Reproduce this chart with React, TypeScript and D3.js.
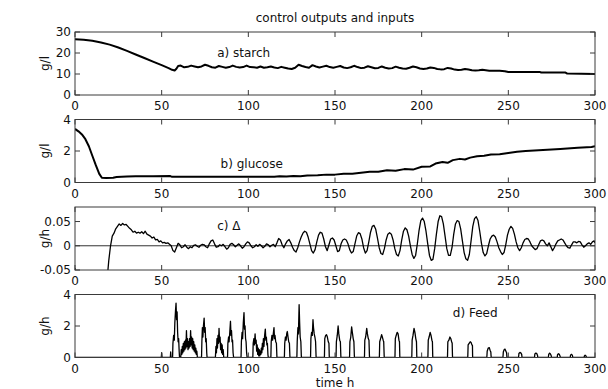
import React from 'react';
import * as d3 from 'd3';

// ---------- data ----------
const timeTicks = [0, 50, 100, 150, 200, 250, 300];
const starchTicks = [0, 10, 20, 30];
const glucoseTicks = [0, 2, 4];
const deltaTicks = [-0.05, 0, 0.05];
const feedTicks = [0, 2, 4];

const starch: [number, number][] = [
  [0, 26.5], [5, 26.3], [10, 25.8], [15, 25.0], [20, 24.0], [25, 22.6], [30, 21.0], [35, 19.3],
  [40, 17.6], [45, 15.9], [50, 14.2], [54, 12.8], [56, 12.0], [57.5, 11.7], [58.5, 12.5], [59.5, 13.8],
  [61, 14.0], [63, 13.2], [65, 13.4], [67, 14.0], [69, 13.6], [71, 13.2], [73, 13.6], [75, 14.4],
  [77, 13.9], [79, 13.2], [81, 13.0], [83, 13.8], [85, 13.4], [87, 13.0], [89, 13.3], [91, 14.0],
  [93, 13.4], [95, 13.1], [97, 13.3], [99, 14.0], [101, 13.3], [103, 13.2], [105, 13.0], [107, 13.6],
  [109, 13.0], [111, 13.2], [113, 13.6], [115, 13.1], [117, 12.8], [119, 13.4], [121, 13.0], [123, 12.6],
  [125, 12.4], [127, 13.0], [129, 14.4], [131, 13.8], [133, 13.3], [135, 13.0], [137, 14.2], [139, 13.6],
  [141, 13.1], [143, 13.5], [145, 13.9], [147, 13.3], [149, 13.0], [151, 13.4], [153, 13.8], [155, 13.1],
  [157, 12.8], [159, 13.2], [161, 13.9], [163, 13.3], [165, 12.8], [167, 13.0], [169, 13.7], [171, 13.2],
  [173, 12.7], [175, 12.9], [177, 13.6], [179, 13.0], [181, 12.6], [183, 12.8], [185, 13.5], [187, 13.0],
  [189, 12.6], [191, 12.5], [193, 13.0], [195, 13.6], [197, 13.2], [199, 12.6], [201, 12.4], [203, 12.6],
  [205, 13.1], [207, 12.9], [209, 12.4], [211, 12.2], [213, 12.3], [215, 12.9], [217, 12.6], [219, 12.1],
  [221, 11.9], [223, 12.0], [225, 12.4], [227, 12.1], [229, 11.8], [231, 11.7], [233, 11.8], [235, 12.0],
  [237, 11.8], [239, 11.6], [241, 11.5], [245, 11.5], [248, 11.3], [250, 11.0], [260, 11.0], [268, 11.0],
  [269, 10.7], [283, 10.7], [284, 10.2], [300, 10.0],
];

const glucose: [number, number][] = [
  [0, 3.4], [2, 3.25], [4, 3.05], [6, 2.75], [8, 2.3], [10, 1.7], [12, 1.1], [14, 0.55], [15.5, 0.3],
  [18, 0.28], [22, 0.3], [24, 0.35], [30, 0.38], [35, 0.4], [45, 0.4], [55, 0.41], [56, 0.36], [80, 0.36],
  [100, 0.36], [115, 0.37], [118, 0.4], [122, 0.38], [126, 0.42], [130, 0.4], [134, 0.44], [140, 0.46],
  [145, 0.5], [150, 0.5], [155, 0.55], [160, 0.56], [165, 0.62], [170, 0.68], [175, 0.68], [180, 0.78],
  [185, 0.75], [190, 0.85], [195, 0.82], [200, 1.0], [205, 1.02], [208, 1.2], [212, 1.3], [215, 1.25],
  [218, 1.42], [222, 1.5], [225, 1.46], [228, 1.58], [232, 1.66], [236, 1.7], [240, 1.78], [245, 1.8],
  [250, 1.88], [255, 1.95], [260, 2.0], [270, 2.06], [280, 2.13], [290, 2.2], [298, 2.25], [300, 2.3],
];

const delta: [number, number][] = [
  [0, -0.046], [0.6, -0.07], [18.5, -0.07], [19.5, -0.03], [20.5, 0.0], [21.5, 0.02], [22.5, 0.026],
  [23.5, 0.035], [24.5, 0.04], [25.5, 0.045], [26.5, 0.042], [27.5, 0.046], [28.5, 0.043], [29.5, 0.044],
  [30.5, 0.04], [31.5, 0.036], [32.5, 0.033], [33.5, 0.028], [34.5, 0.03], [35.5, 0.026], [36.5, 0.028],
  [37.5, 0.026], [38.5, 0.029], [39.5, 0.025], [40.5, 0.03], [41.5, 0.024], [42.5, 0.022], [43.5, 0.02],
  [44.5, 0.016], [45.5, 0.018], [46.5, 0.012], [47.5, 0.013], [48.5, 0.008], [49.5, 0.01], [50.5, 0.006],
  [51.5, 0.007], [52.5, 0.005], [53.5, 0.006], [54.5, 0.003], [55.5, 0.0], [56.5, -0.01], [57.5, -0.013],
  [58.5, -0.004], [59.5, 0.005], [60.5, 0.002], [61.5, -0.004], [62.5, -0.002], [63.5, 0.002],
  [64.5, -0.003], [65.5, -0.006], [66.5, -0.002], [67.5, -0.004], [68.5, 0.001], [69.5, 0.002],
  [70.5, -0.001], [71.5, -0.003], [72.5, 0.001], [73.5, 0.003], [74.5, 0.002], [75.5, -0.002],
  [76.5, -0.004], [77.5, 0.004], [78.5, 0.01], [79.5, 0.012], [80.5, 0.004], [81.5, -0.003],
  [82.5, -0.002], [83.5, 0.002], [84.5, 0.0], [85.5, 0.003], [86.5, -0.002], [87.5, -0.007],
  [88.5, -0.004], [89.5, 0.003], [90.5, 0.005], [91.5, 0.002], [92.5, -0.002], [93.5, 0.001],
  [94.5, 0.004], [95.5, 0.0], [96.5, -0.005], [97.5, -0.002], [98.5, 0.004], [99.5, 0.008],
  [100.5, 0.006], [101.5, 0.0], [102.5, -0.004], [103.5, -0.002], [104.5, 0.002], [105.5, -0.001],
  [106.5, 0.003], [107.5, 0.0], [108.5, -0.004], [109.5, -0.001], [110.5, 0.004], [111.5, 0.002],
  [112.5, -0.002], [113.5, 0.001], [114.5, 0.003], [115.5, -0.002], [116.5, 0.006], [117.5, 0.015],
  [118.5, 0.012], [119.5, 0.002], [120.5, -0.004], [121.5, 0.004], [122.5, 0.01], [123.5, 0.013],
  [124.5, 0.006], [125.5, -0.003], [126.5, -0.01], [127.5, -0.013], [128.5, -0.004], [129.5, 0.008],
  [130.5, 0.018], [131.5, 0.026], [132.5, 0.03], [133.5, 0.028], [134.5, 0.018], [135.5, 0.004],
  [136.5, -0.01], [137.5, -0.015], [138.5, -0.008], [139.5, 0.008], [140.5, 0.022], [141.5, 0.028],
  [142.5, 0.026], [143.5, 0.014], [144.5, -0.002], [145.5, -0.01], [146.5, 0.002], [147.5, 0.014],
  [148.5, 0.016], [149.5, 0.012], [150.5, 0.0], [151.5, -0.012], [152.5, -0.01], [153.5, 0.004],
  [154.5, 0.012], [155.5, 0.014], [156.5, 0.012], [157.5, 0.004], [158.5, -0.008], [159.5, -0.015],
  [160.5, -0.012], [161.5, 0.004], [162.5, 0.02], [163.5, 0.027], [164.5, 0.025], [165.5, 0.014],
  [166.5, -0.004], [167.5, -0.015], [168.5, -0.01], [169.5, 0.008], [170.5, 0.028], [171.5, 0.04],
  [172.5, 0.042], [173.5, 0.034], [174.5, 0.016], [175.5, -0.004], [176.5, -0.016], [177.5, -0.018],
  [178.5, -0.006], [179.5, 0.012], [180.5, 0.024], [181.5, 0.027], [182.5, 0.024], [183.5, 0.012],
  [184.5, -0.006], [185.5, -0.018], [186.5, -0.021], [187.5, -0.01], [188.5, 0.012], [189.5, 0.03],
  [190.5, 0.037], [191.5, 0.033], [192.5, 0.02], [193.5, 0.0], [194.5, -0.018], [195.5, -0.026],
  [196.5, -0.02], [197.5, 0.004], [198.5, 0.032], [199.5, 0.052], [200.5, 0.057], [201.5, 0.05],
  [202.5, 0.03], [203.5, 0.004], [204.5, -0.02], [205.5, -0.03], [206.5, -0.028], [207.5, -0.006],
  [208.5, 0.024], [209.5, 0.05], [210.5, 0.062], [211.5, 0.06], [212.5, 0.045], [213.5, 0.02],
  [214.5, -0.006], [215.5, -0.02], [216.5, -0.02], [217.5, -0.004], [218.5, 0.024], [219.5, 0.045],
  [220.5, 0.052], [221.5, 0.05], [222.5, 0.035], [223.5, 0.01], [224.5, -0.014], [225.5, -0.027],
  [226.5, -0.03], [227.5, -0.018], [228.5, 0.01], [229.5, 0.04], [230.5, 0.056], [231.5, 0.06],
  [232.5, 0.052], [233.5, 0.03], [234.5, 0.005], [235.5, -0.014], [236.5, -0.021], [237.5, -0.016],
  [238.5, 0.0], [239.5, 0.014], [240.5, 0.02], [241.5, 0.022], [242.5, 0.018], [243.5, 0.008],
  [244.5, -0.004], [245.5, -0.012], [246.5, -0.018], [247.5, -0.014], [248.5, 0.002], [249.5, 0.022],
  [250.5, 0.034], [251.5, 0.04], [252.5, 0.036], [253.5, 0.024], [254.5, 0.008], [255.5, -0.004],
  [256.5, -0.01], [257.5, -0.004], [258.5, 0.006], [259.5, 0.013], [260.5, 0.015], [261.5, 0.014],
  [262.5, 0.008], [263.5, 0.0], [264.5, -0.004], [265.5, -0.008], [266.5, -0.006], [267.5, 0.002],
  [268.5, 0.01], [269.5, 0.012], [270.5, 0.01], [271.5, 0.004], [272.5, 0.0], [273.5, 0.006],
  [274.5, -0.002], [275.5, -0.01], [276.5, -0.004], [277.5, 0.004], [278.5, 0.01], [279.5, 0.012],
  [280.5, 0.014], [281.5, 0.012], [282.5, 0.006], [283.5, 0.0], [284.5, -0.004], [285.5, -0.005],
  [286.5, 0.002], [287.5, 0.008], [288.5, 0.008], [289.5, 0.006], [290.5, 0.009], [291.5, 0.008],
  [292.5, 0.002], [293.5, -0.003], [294.5, 0.0], [295.5, 0.004], [296.5, 0.006], [297.5, 0.003],
  [298.5, 0.008], [299.5, 0.01], [300, 0.006],
];

const feed: [number, number][] = [
  [0, 0], [49.8, 0], [50, 0.3], [50.2, 0],
  [55, 0], [55.2, 0.35], [55.4, 0],
  [56.3, 0], [56.5, 0.9], [56.9, 1.4], [57.3, 1.1], [57.6, 2.2], [58, 3.0], [58.3, 3.45], [58.6, 2.4],
  [58.9, 2.9], [59.2, 1.6], [59.5, 1.0], [59.8, 1.2], [60.1, 0.4], [60.3, 0],
  [61, 0], [61.3, 0.5], [61.6, 0.2], [61.9, 0.7], [62.2, 0.3], [62.5, 0.9], [62.8, 0.4], [63.1, 1.0],
  [63.4, 0.5], [63.7, 1.1], [64, 0.6], [64.3, 1.7], [64.6, 0.7], [64.9, 1.2], [65.2, 0.5], [65.5, 1.0],
  [65.8, 0.6], [66.1, 1.2], [66.4, 0.7], [66.7, 1.7], [67, 0.8], [67.3, 1.3], [67.6, 0.6], [67.9, 1.2],
  [68.2, 0.5], [68.5, 1.0], [68.8, 0.4], [69.1, 0.8], [69.4, 0.3], [69.7, 0.6], [70, 0.2], [70.3, 0.4], [70.6, 0],
  [73, 0], [73.2, 1.0], [73.5, 1.9], [73.8, 1.3], [74.1, 2.0], [74.5, 2.5], [74.8, 1.6], [75.1, 1.9],
  [75.4, 1.0], [75.7, 1.2], [76, 0.3], [76.2, 0],
  [81, 0], [81.3, 0.7], [81.6, 0.3], [81.9, 1.2], [82.2, 0.6], [82.5, 1.4], [82.8, 0.9], [83.1, 1.85],
  [83.4, 1.0], [83.7, 1.3], [84, 0.5], [84.3, 0.9], [84.6, 0.3], [84.9, 0.8], [85.2, 0.2], [85.5, 0.5], [85.8, 0],
  [88, 0], [88.2, 0.9], [88.6, 1.3], [88.9, 1.0], [89.3, 1.6], [89.7, 2.3], [90, 1.4], [90.3, 1.7],
  [90.6, 1.0], [90.9, 1.1], [91.2, 0.3], [91.5, 0],
  [95.8, 0], [96, 1.0], [96.4, 1.6], [96.7, 1.2], [97.1, 2.2], [97.5, 2.85], [97.8, 1.8], [98.1, 2.0],
  [98.4, 1.2], [98.7, 1.0], [99, 0.3], [99.3, 0],
  [102.6, 0], [102.8, 0.9], [103.2, 1.2], [103.5, 0.8], [103.9, 1.5], [104.2, 0.9], [104.5, 1.1],
  [104.8, 0.4], [105.1, 0.8], [105.4, 0.2], [105.7, 0.6], [106, 0.1], [106.3, 0.5], [106.6, 0.1],
  [106.9, 0.4], [107.2, 0.2], [107.5, 0.6], [107.8, 0.3], [108.1, 0.9], [108.4, 0.5], [108.7, 1.2],
  [109, 0.7], [109.4, 1.4], [109.8, 1.8], [110.1, 1.1], [110.4, 1.3], [110.7, 0.8], [111, 0.9], [111.3, 0.2], [111.5, 0],
  [113, 0], [113.2, 1.0], [113.6, 1.4], [114, 1.1], [114.4, 1.5], [114.8, 1.9], [115.1, 1.2], [115.4, 1.4],
  [115.8, 1.0], [116.2, 0.9], [116.5, 0],
  [120.8, 0], [121, 0.9], [121.4, 1.3], [121.8, 1.1], [122.2, 1.55], [122.5, 1.65], [122.9, 1.3], [123.3, 1.0], [123.7, 0.9], [124, 0],
  [128, 0], [128.2, 1.0], [128.6, 1.9], [128.9, 1.5], [129.3, 3.35], [129.6, 2.2], [129.9, 1.3], [130.3, 1.0], [130.6, 0],
  [135.9, 0], [136.1, 1.2], [136.5, 1.6], [136.9, 1.4], [137.3, 2.4], [137.6, 1.9], [138, 1.5], [138.4, 1.3], [138.8, 1.0], [139.1, 0],
  [143.9, 0], [144.1, 1.2], [144.6, 1.4], [145.1, 1.45], [145.6, 1.3], [146.1, 1.0], [146.5, 0.9], [146.7, 0],
  [150.6, 0], [150.8, 1.0], [151.3, 1.4], [151.8, 2.0], [152.2, 1.5], [152.7, 1.1], [153.1, 1.0], [153.4, 0],
  [158.4, 0], [158.6, 1.0], [159.1, 1.3], [159.6, 1.95], [160, 1.6], [160.5, 1.2], [160.9, 1.0], [161.2, 0],
  [167, 0], [167.2, 1.1], [167.7, 1.3], [168.3, 1.85], [168.7, 1.5], [169.2, 1.2], [169.6, 1.1], [169.9, 0],
  [175.6, 0], [175.8, 1.0], [176.3, 1.2], [176.9, 1.45], [177.3, 1.3], [177.8, 1.1], [178.1, 1.0], [178.4, 0],
  [184.6, 0], [184.8, 1.2], [185.3, 1.4], [185.9, 1.6], [186.4, 1.5], [186.9, 1.1], [187.2, 1.0], [187.4, 0],
  [194.3, 0], [194.5, 1.1], [195, 1.4], [195.6, 1.85], [196.1, 1.6], [196.6, 1.2], [197, 1.0], [197.2, 0],
  [203.6, 0], [203.8, 1.1], [204.3, 1.3], [204.9, 1.6], [205.4, 1.4], [205.9, 1.1], [206.2, 1.0], [206.4, 0],
  [214.9, 0], [215.1, 1.0], [215.7, 1.1], [216.3, 1.3], [216.8, 1.2], [217.3, 1.0], [217.6, 0.9], [217.8, 0],
  [226.6, 0], [226.8, 0.8], [227.4, 0.9], [228, 1.0], [228.5, 0.95], [229, 0.8], [229.3, 0.75], [229.4, 0],
  [237.6, 0], [237.8, 0.4], [238.4, 0.6], [239, 0.63], [239.5, 0.45], [239.9, 0.35], [240.1, 0],
  [246.9, 0], [247.1, 0.35], [247.6, 0.5], [248.1, 0.53], [248.6, 0.4], [249, 0.3], [249.2, 0],
  [255.9, 0], [256.1, 0.25], [256.7, 0.32], [257.2, 0.3], [257.7, 0.2], [257.9, 0],
  [265.1, 0], [265.3, 0.22], [265.9, 0.28], [266.4, 0.25], [266.8, 0.15], [267, 0],
  [273.1, 0], [273.3, 0.2], [273.8, 0.28], [274.3, 0.22], [274.7, 0.12], [274.9, 0],
  [278.2, 0], [278.4, 0.18], [278.9, 0.24], [279.4, 0.2], [279.8, 0.1], [280, 0],
  [285.7, 0], [285.9, 0.15], [286.4, 0.2], [286.9, 0.15], [287.2, 0],
  [293.7, 0], [293.9, 0.1], [294.3, 0.15], [294.8, 0.1], [295.1, 0], [300, 0],
];

const titleText = 'control outputs and inputs';
const xLabelText = 'time h';

// ---------- layout ----------
const W = 608;
const H = 389;
const LEFT = 75;
const RIGHT = 595;
const FIRST_TOP = 32;
const STEP = 87.5;
const PH = 63;
const TICK = 5;
const FONT = "'DejaVu Sans', Arial, sans-serif";

type Panel = {
  data: [number, number][];
  domain: [number, number];
  ticks: number[];
  ylabel: string;
  label: string;
  labelAt: [number, number];
  width: number;
  zero?: boolean;
};

const panels: Panel[] = [
  { data: starch, domain: [0, 30], ticks: starchTicks, ylabel: 'g/l', label: 'a) starch', labelAt: [82, 20], width: 2 },
  { data: glucose, domain: [0, 4], ticks: glucoseTicks, ylabel: 'g/l', label: 'b) glucose', labelAt: [84, 1.15], width: 2 },
  { data: delta, domain: [-0.05, 0.08], ticks: deltaTicks, ylabel: 'g/h', label: 'c)  \u0394', labelAt: [82, 0.04], width: 1.3, zero: true },
  { data: feed, domain: [0, 4], ticks: feedTicks, ylabel: 'g/h', label: 'd) Feed', labelAt: [218, 2.8], width: 1.3 },
];

const x = d3.scaleLinear().domain([0, 300]).range([LEFT, RIGHT]);

function PanelView({ p, i }: { p: Panel; i: number }) {
  const top = FIRST_TOP + i * STEP;
  const bottom = top + PH;
  const y = d3.scaleLinear().domain(p.domain).range([bottom, top]);
  const line = d3.line<[number, number]>().x((d) => x(d[0])).y((d) => y(d[1]));
  const clipId = `clip${i}`;
  return (
    <g>
      <clipPath id={clipId}>
        <rect x={LEFT} y={top} width={RIGHT - LEFT} height={PH} />
      </clipPath>
      {p.zero && (
        <line x1={LEFT} x2={RIGHT} y1={y(0)} y2={y(0)} stroke="#333" strokeWidth={1} />
      )}
      <path d={line(p.data) || ''} fill="none" stroke="#000" strokeWidth={p.width} strokeLinejoin="round" clipPath={`url(#${clipId})`} />
      <rect x={LEFT} y={top} width={RIGHT - LEFT} height={PH} fill="none" stroke="#3a3a3a" strokeWidth={1} />
      {timeTicks.map((t) => (
        <g key={`xt${t}`}>
          <line x1={x(t)} x2={x(t)} y1={bottom} y2={bottom - TICK} stroke="#3a3a3a" />
          <line x1={x(t)} x2={x(t)} y1={top} y2={top + TICK} stroke="#3a3a3a" />
          <text x={x(t)} y={bottom + 11} textAnchor="middle" dominantBaseline="central" fontSize={12} fontFamily={FONT} fill="#111">
            {t}
          </text>
        </g>
      ))}
      {p.ticks.map((v) => (
        <g key={`yt${v}`}>
          <line x1={LEFT} x2={LEFT + TICK} y1={y(v)} y2={y(v)} stroke="#3a3a3a" />
          <line x1={RIGHT} x2={RIGHT - TICK} y1={y(v)} y2={y(v)} stroke="#3a3a3a" />
          <text x={LEFT - 4} y={y(v)} textAnchor="end" dominantBaseline="central" fontSize={12} fontFamily={FONT} fill="#111">
            {String(v)}
          </text>
        </g>
      ))}
      <text
        transform={`translate(45, ${(top + bottom) / 2}) rotate(-90)`}
        textAnchor="middle"
        dominantBaseline="central"
        fontSize={12}
        fontFamily={FONT}
        fill="#111"
      >
        {p.ylabel}
      </text>
      <text x={x(p.labelAt[0])} y={y(p.labelAt[1])} dominantBaseline="central" fontSize={12} fontFamily={FONT} fill="#111">
        {p.label}
      </text>
    </g>
  );
}

export default function App() {
  const lastBottom = FIRST_TOP + 3 * STEP + PH;
  return (
    <svg width={W} height={H} style={{ position: 'absolute', left: 0, top: 0, background: '#fff' }}>
      <rect width={W} height={H} fill="#fff" />
      <text x={(LEFT + RIGHT) / 2} y={FIRST_TOP - 14} textAnchor="middle" dominantBaseline="central" fontSize={12} fontFamily={FONT} fill="#111">
        {titleText}
      </text>
      {panels.map((p, i) => (
        <PanelView key={i} p={p} i={i} />
      ))}
      <text x={(LEFT + RIGHT) / 2} y={lastBottom + 25} textAnchor="middle" dominantBaseline="central" fontSize={12} fontFamily={FONT} fill="#111">
        {xLabelText}
      </text>
    </svg>
  );
}
